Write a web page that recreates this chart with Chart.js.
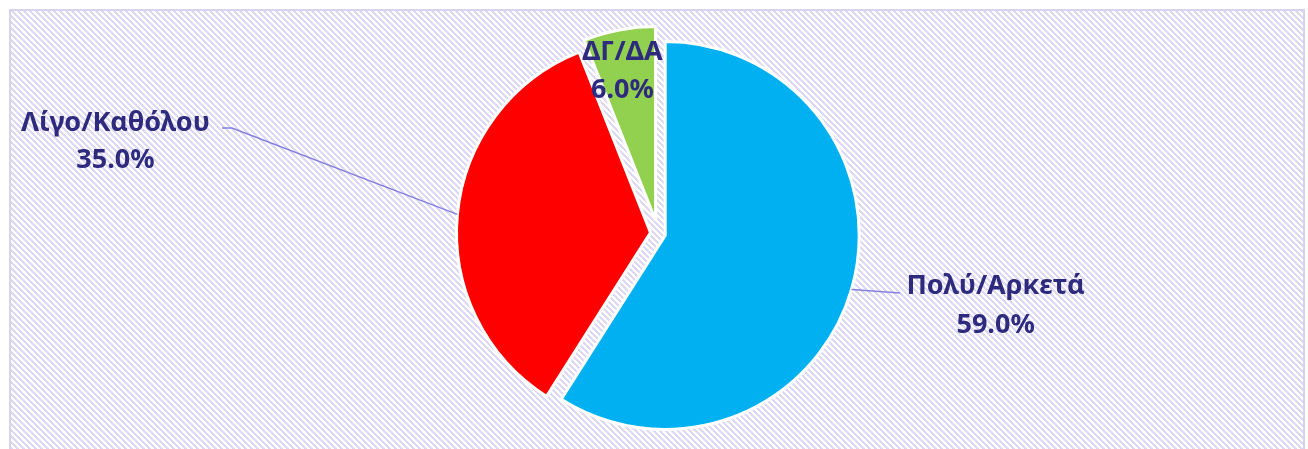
<!DOCTYPE html>
<html><head><meta charset="utf-8">
<script src="https://cdn.jsdelivr.net/npm/chart.js@4/dist/chart.umd.min.js"></script>
<style>html,body{margin:0;padding:0;background:#fff;overflow:hidden}canvas{display:block}</style>
</head><body>
<canvas id="c" width="1308" height="449"></canvas>
<script>
// ---- data ----
const categories = ['Πολύ/Αρκετά', 'Λίγο/Καθόλου', 'ΔΓ/ΔΑ'];
const values = [59.0, 35.0, 6.0];
const sliceColors = ['#00B0F0', '#FF0000', '#92D050'];
const explodeShift = [7.5, 7.5, 13];

// label layout relative to each slice's outer mid-angle point (styling only)
const labelLayout = [
  { leader: [[48.6, 3.5]], tx: 144.1, ty1: -5.5, ty2: 34 },
  { leader: [[-225.4, -86.4], [-235.4, -86.4]], tx: -341.9, ty1: -93.4, ty2: -56.4 },
  { leader: [], tx: 3.2, ty1: 20.5, ty2: 58 }
];

const TEXT_COLOR = '#2E2A7E';
const LINE_COLOR = '#8480DC';
const FONT_SIZE = 27;
const FONT = 'bold ' + FONT_SIZE + 'px "Noto Sans", "DejaVu Sans", sans-serif';

function makePattern(ctx) {
  const n = 6;
  const p = document.createElement('canvas');
  p.width = n; p.height = n;
  const pc = p.getContext('2d');
  pc.fillStyle = '#ffffff';
  pc.fillRect(0, 0, n, n);
  pc.fillStyle = '#DDD9F5';
  for (let y = 0; y < n; y++) for (let x = 0; x < n; x++) {
    if ((((x - y) % n) + n) % n < 3) pc.fillRect(x, y, 1, 1);
  }
  return ctx.createPattern(p, 'repeat');
}

const bgPlugin = {
  id: 'bg',
  beforeDraw(chart) {
    const ctx = chart.ctx;
    ctx.save();
    ctx.fillStyle = '#ffffff';
    ctx.fillRect(0, 0, chart.width, chart.height);
    ctx.fillStyle = makePattern(ctx);
    ctx.fillRect(10, 10, 1294, 460);
    ctx.strokeStyle = '#D6D2F0';
    ctx.lineWidth = 2;
    ctx.strokeRect(10, 10, 1294, 460);
    ctx.restore();
  }
};

// explode each slice outward along its mid-angle
const explodePlugin = {
  id: 'explode',
  beforeDatasetDraw(chart, args) {
    args.meta.data.forEach((arc, i) => {
      const half = (arc.startAngle + arc.endAngle) / 2;
      arc._ox = arc.x; arc._oy = arc.y;
      arc.x += Math.cos(half) * explodeShift[i];
      arc.y += Math.sin(half) * explodeShift[i];
    });
  },
  afterDatasetDraw(chart, args) {
    args.meta.data.forEach(arc => { arc.x = arc._ox; arc.y = arc._oy; });
  }
};

const labelPlugin = {
  id: 'labels',
  afterDatasetsDraw(chart) {
    const ctx = chart.ctx;
    const meta = chart.getDatasetMeta(0);
    const total = values.reduce((a, b) => a + b, 0);
    meta.data.forEach((arc, i) => {
      const half = (arc.startAngle + arc.endAngle) / 2;
      const d = explodeShift[i] + arc.outerRadius;
      const ex = arc.x + Math.cos(half) * d;
      const ey = arc.y + Math.sin(half) * d;
      const L = labelLayout[i];
      ctx.save();
      if (L.leader.length) {
        ctx.strokeStyle = LINE_COLOR;
        ctx.lineWidth = 1.5;
        ctx.beginPath();
        ctx.moveTo(ex, ey);
        L.leader.forEach(pt => ctx.lineTo(ex + pt[0], ey + pt[1]));
        ctx.stroke();
      }
      ctx.fillStyle = TEXT_COLOR;
      ctx.font = FONT;
      ctx.textAlign = 'center';
      ctx.textBaseline = 'alphabetic';
      const capHalf = FONT_SIZE * 0.714 / 2;
      ctx.fillText(categories[i], ex + L.tx, ey + L.ty1 + capHalf);
      ctx.fillText((values[i] / total * 100).toFixed(1) + '%', ex + L.tx, ey + L.ty2 + capHalf);
      ctx.restore();
    });
  }
};

new Chart(document.getElementById('c'), {
  type: 'pie',
  data: {
    labels: categories,
    datasets: [{
      data: values,
      backgroundColor: sliceColors,
      borderColor: '#ffffff',
      borderWidth: 3,
      hoverOffset: 0,
      radius: 194
    }]
  },
  options: {
    responsive: false,
    animation: false,
    events: [],
    layout: { padding: { top: 17.6, bottom: 0, left: 8, right: 0 } },
    plugins: { legend: { display: false }, tooltip: { enabled: false } }
  },
  plugins: [bgPlugin, explodePlugin, labelPlugin]
});
</script>
</body></html>
